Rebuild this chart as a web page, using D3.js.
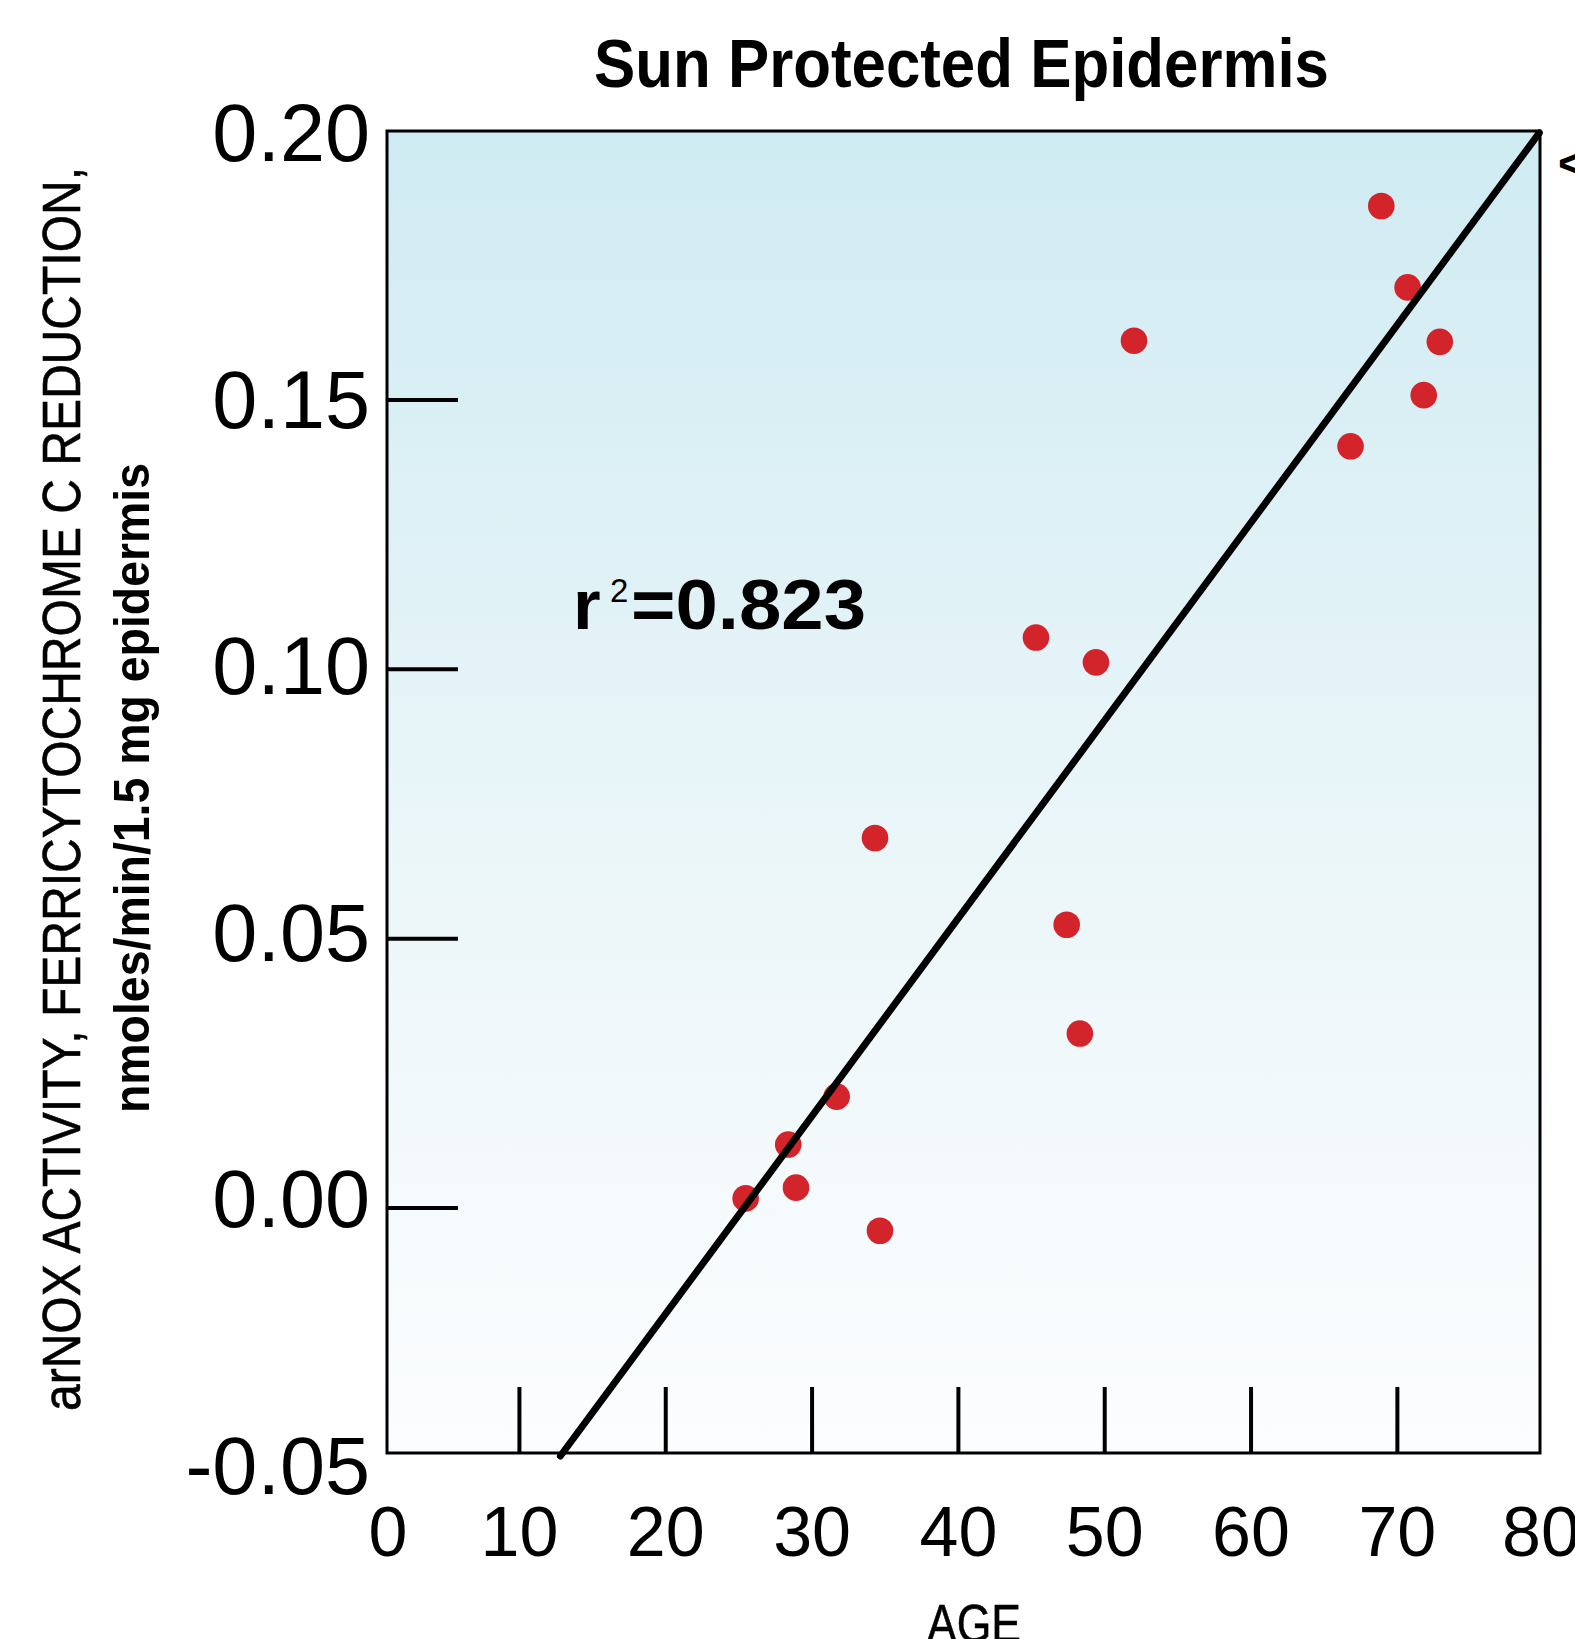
<!DOCTYPE html>
<html>
<head>
<meta charset="utf-8">
<script src="https://cdn.jsdelivr.net/npm/d3@7"></script>
<style>
  html, body { margin: 0; padding: 0; background: #ffffff; }
  svg { display: block; }
</style>
</head>
<body>
<script>
// ---------- data ----------
const ages = [25.46, 28.37, 28.90, 31.68, 34.3, 34.64, 45.3, 47.4, 48.3, 49.4, 52.0, 66.8, 68.9, 70.7, 71.8, 72.9];
const activity = [0.0018, 0.0118, 0.0038, 0.0207, 0.0687, -0.0042, 0.1059, 0.0526, 0.0324, 0.1013, 0.1610, 0.1414, 0.1860, 0.1709, 0.1509, 0.1608];
const fitAges = [12.8, 79.7];
const fitSlope = 0.003671;
const fitIntercept = -0.0930;
const yTickValues = [0.15, 0.10, 0.05, 0.00];
const yLabelValues = [0.20, 0.15, 0.10, 0.05, 0.00, -0.05];
const yLabelText = ["0.20", "0.15", "0.10", "0.05", "0.00", "-0.05"];
const xTickValues = [10, 20, 30, 40, 50, 60, 70];
const xLabelValues = [0, 10, 20, 30, 40, 50, 60, 70, 80];
const titleText = "Sun Protected Epidermis";
const yTitle1 = "arNOX ACTIVITY, FERRICYTOCHROME C REDUCTION,";
const yTitle2 = "nmoles/min/1.5 mg epidermis";
const xTitle = "AGE";
const r2Value = "0.823";

// ---------- layout ----------
const W = 1575, H = 1639;
const frame = { left: 387, right: 1540, top: 131, bottom: 1453 };
const narrow = "'Liberation Sans Narrow', 'Arial Narrow', 'Liberation Sans', Arial, sans-serif";
const sans = "'Liberation Sans', Arial, Helvetica, sans-serif";

const svg = d3.select("body").append("svg")
  .attr("width", W).attr("height", H)
  .attr("viewBox", `0 0 ${W} ${H}`);

const x = d3.scaleLinear().domain([0, 80]).range([373.1, 1543.7]);
const y = d3.scaleLinear().domain([-0.05, 0.20]).range([1477.5, 130.6]);
const yLab = d3.scaleLinear().domain([-0.05, 0.20]).range([1494, 161]);

// background gradient
const defs = svg.append("defs");
const grad = defs.append("linearGradient")
  .attr("id", "bg").attr("x1", 0).attr("y1", 0).attr("x2", 0).attr("y2", 1);
grad.append("stop").attr("offset", "0%").attr("stop-color", "#cfebf2");
grad.append("stop").attr("offset", "55%").attr("stop-color", "#ebf6f9");
grad.append("stop").attr("offset", "100%").attr("stop-color", "#fcfdfe");

svg.append("rect")
  .attr("x", frame.left).attr("y", frame.top)
  .attr("width", frame.right - frame.left)
  .attr("height", frame.bottom - frame.top)
  .attr("fill", "url(#bg)");

// points
const pts = ages.map((a, i) => ({ a, v: activity[i] }));
svg.append("g").selectAll("circle").data(pts).join("circle")
  .attr("cx", d => x(d.a))
  .attr("cy", d => y(d.v))
  .attr("r", 13.3)
  .attr("fill", "#d3232b");

// regression line
const fit = fitAges.map(a => [a, fitSlope * a + fitIntercept]);
svg.append("path")
  .attr("d", d3.line().x(d => x(d[0])).y(d => y(d[1]))(fit))
  .attr("stroke", "#000").attr("stroke-width", 7)
  .attr("stroke-linecap", "round")
  .attr("fill", "none");

// frame
svg.append("rect")
  .attr("x", frame.left).attr("y", frame.top)
  .attr("width", frame.right - frame.left)
  .attr("height", frame.bottom - frame.top)
  .attr("fill", "none").attr("stroke", "#000").attr("stroke-width", 3);

// y ticks (inside)
svg.append("g").selectAll("line").data(yTickValues).join("line")
  .attr("x1", frame.left).attr("x2", frame.left + 71)
  .attr("y1", d => y(d)).attr("y2", d => y(d))
  .attr("stroke", "#000").attr("stroke-width", 4);

// x ticks (inside)
svg.append("g").selectAll("line").data(xTickValues).join("line")
  .attr("x1", d => x(d)).attr("x2", d => x(d))
  .attr("y1", frame.bottom).attr("y2", frame.bottom - 66)
  .attr("stroke", "#000").attr("stroke-width", 4);

// y labels
svg.append("g").selectAll("text").data(yLabelValues).join("text")
  .attr("x", 370)
  .attr("y", d => yLab(d))
  .attr("text-anchor", "end")
  .attr("font-family", sans)
  .attr("font-size", 81)
  .attr("fill", "#000")
  .text((d, i) => yLabelText[i]);

// x labels
svg.append("g").selectAll("text").data(xLabelValues).join("text")
  .attr("x", d => Math.max(frame.left + 1, Math.min(frame.right + 1, x(d))))
  .attr("y", 1556)
  .attr("text-anchor", "middle")
  .attr("font-family", sans)
  .attr("font-size", 70)
  .attr("fill", "#000")
  .text(d => d);

// title
svg.append("text")
  .attr("x", 594).attr("y", 87)
  .attr("font-family", narrow)
  .attr("font-weight", "bold")
  .attr("font-size", 69)
  .attr("textLength", 735)
  .attr("lengthAdjust", "spacingAndGlyphs")
  .attr("fill", "#000")
  .text(titleText);

// y axis title (two lines, rotated)
svg.append("text")
  .attr("transform", "translate(80,1411) rotate(-90)")
  .attr("font-family", narrow)
  .attr("font-size", 53)
  .attr("textLength", 1244)
  .attr("lengthAdjust", "spacingAndGlyphs")
  .attr("fill", "#000")
  .attr("stroke", "#000").attr("stroke-width", 0.6)
  .text(yTitle1);

svg.append("text")
  .attr("transform", "translate(149,1113) rotate(-90)")
  .attr("font-family", narrow)
  .attr("font-weight", "bold")
  .attr("font-size", 50)
  .attr("textLength", 650)
  .attr("lengthAdjust", "spacingAndGlyphs")
  .attr("fill", "#000")
  .text(yTitle2);

// x axis title
svg.append("text")
  .attr("x", 927).attr("y", 1642)
  .attr("font-family", narrow)
  .attr("font-size", 54)
  .attr("textLength", 94)
  .attr("lengthAdjust", "spacingAndGlyphs")
  .attr("fill", "#000")
  .attr("stroke", "#000").attr("stroke-width", 0.6)
  .text(xTitle);

// r² annotation
const r2 = svg.append("g");
r2.append("text")
  .attr("x", 573).attr("y", 629)
  .attr("font-family", sans).attr("font-weight", "bold")
  .attr("font-size", 71).attr("fill", "#000")
  .text("r");
r2.append("text")
  .attr("x", 610).attr("y", 602)
  .attr("font-family", sans)
  .attr("font-size", 33).attr("fill", "#000")
  .text("2");
r2.append("text")
  .attr("x", 631).attr("y", 629)
  .attr("font-family", sans).attr("font-weight", "bold")
  .attr("font-size", 71).attr("fill", "#000")
  .attr("textLength", 235)
  .attr("lengthAdjust", "spacingAndGlyphs")
  .text("=" + r2Value);

// cut-off glyph at the top right edge
svg.append("text")
  .attr("x", 1558).attr("y", 179)
  .attr("font-family", sans).attr("font-weight", "bold")
  .attr("font-size", 46).attr("fill", "#000")
  .text("<");
</script>
</body>
</html>
